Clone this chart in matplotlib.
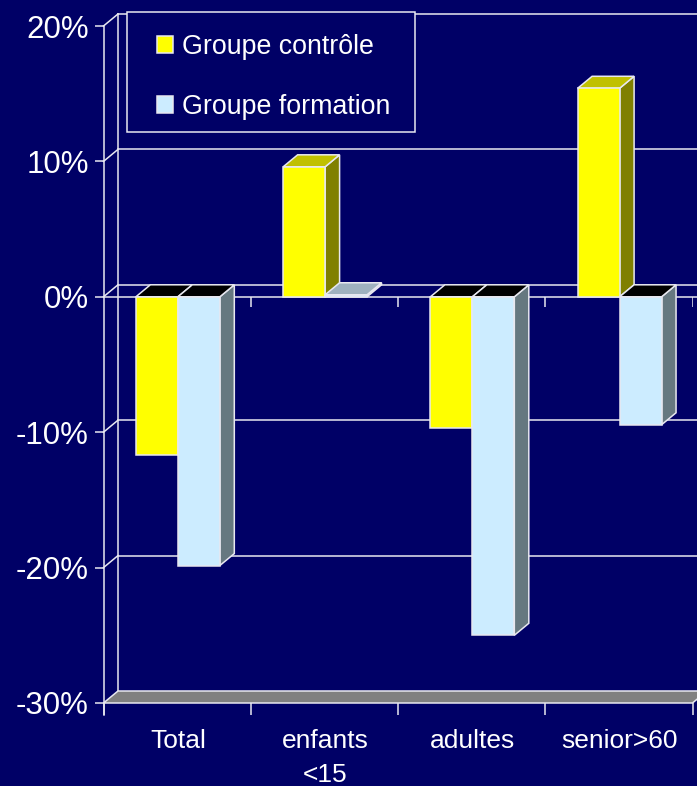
import matplotlib
matplotlib.use('Agg')
import matplotlib.pyplot as plt
from matplotlib.patches import Patch, Polygon, Rectangle

plt.rcParams['font.family'] = ['Liberation Sans', 'DejaVu Sans']

categories = ['Total', 'enfants\n<15', 'adultes', 'senior>60']
controle = [-11.7, 9.6, -9.7, 15.4]
formation = [-19.85, 0.15, -25.0, -9.45]
y_ticks = [-30, -20, -10, 0, 10, 20]

BG = '#000066'
LINE = '#e8e8f0'
LW = 1.1
W, H = 697, 786

fig = plt.figure(figsize=(W / 100, H / 100), dpi=100, facecolor=BG)
ax = fig.add_axes([103.5 / W, (H - 703) / H, 589 / W, 677 / H], facecolor=BG)
ax.set_xlim(0, 4)
ax.set_ylim(-30, 20)

# depth of the fake 3d, in data units
dx = 14.5 / 147.5
dy = 12 / 13.54
bar_w = 0.285


def draw_bar(x, val, front, side, top, z):
    ax.bar(x, val, bar_w, align='edge', color=front, edgecolor=LINE, linewidth=LW, zorder=z + 0.2)
    x1 = x + bar_w
    ax.add_patch(Polygon([(x1, 0), (x1 + dx, dy), (x1 + dx, val + dy), (x1, val)], closed=True,
                         facecolor=side, edgecolor=LINE, linewidth=LW, zorder=z, clip_on=False))
    up = max(val, 0)
    ax.add_patch(Polygon([(x, up), (x1, up), (x1 + dx, up + dy), (x + dx, up + dy)], closed=True,
                         facecolor=top, edgecolor=LINE, linewidth=LW, zorder=z + 0.1, clip_on=False))


# back wall and grid
for v in y_ticks[1:]:
    ax.plot([dx, 4.1], [v + dy, v + dy], color=LINE, lw=LW, zorder=1, clip_on=False)
    ax.plot([0, dx], [v, v + dy], color=LINE, lw=LW, zorder=1, clip_on=False)
ax.plot([dx, dx], [-30 + dy, 20 + dy], color=LINE, lw=LW, zorder=1, clip_on=False)

# floor
ax.add_patch(Polygon([(0, -30), (4, -30), (4 + dx, -30 + dy), (dx, -30 + dy)], closed=True,
                     facecolor='#808080', edgecolor=LINE, linewidth=LW, zorder=2, clip_on=False))

# zero line in front and its ticks
ax.plot([0, 4.1], [0, 0], color=LINE, lw=LW, zorder=3, clip_on=False)
ax.vlines([1, 2, 3, 4], 0, -0.75, color=LINE, lw=LW, zorder=3)

for i in range(len(categories)):
    z = 4 + i * 2
    left = i + 0.505 - bar_w
    c = controle[i]
    f = formation[i]
    draw_bar(left, c, '#ffff00', '#808000', '#c0c000' if c > 0 else '#000000', z)
    draw_bar(left + bar_w, f, '#ccecff', '#667880', '#9fb2bf' if f > 0 else '#000000', z + 1)

# axes
for s in ['top', 'right', 'bottom']:
    ax.spines[s].set_visible(False)
ax.spines['left'].set_color(LINE)
ax.spines['left'].set_linewidth(LW)
ax.spines['left'].set_bounds(-30.9, 20)

ax.set_yticks(y_ticks)
ax.set_yticklabels([str(v) + '%' for v in y_ticks], fontsize=22.5, color='white')
ax.tick_params(axis='y', length=6.5, width=LW, color=LINE, pad=4)
ax.set_xticks([0, 1, 2, 3, 4])
ax.set_xticklabels([])
ax.tick_params(axis='x', which='major', length=8.5, width=LW, color=LINE)
ax.set_xticks([i + 0.505 for i in range(4)], minor=True)
ax.set_xticklabels(categories, minor=True, fontsize=19, color='white', linespacing=1.52)
ax.tick_params(axis='x', which='minor', length=0, pad=19)

# legend
box = Rectangle((127 / W, 1 - 132 / H), 288 / W, 120 / H, transform=fig.transFigure,
                facecolor=BG, edgecolor=LINE, linewidth=LW, zorder=30)
ax.add_patch(box)
box.set_clip_on(False)
handles = [Patch(facecolor='#ffff00', edgecolor=LINE, linewidth=LW),
           Patch(facecolor='#ccecff', edgecolor=LINE, linewidth=LW)]
leg = ax.legend(handles, ['Groupe contrôle', 'Groupe formation'], loc='upper left',
                bbox_to_anchor=(157 / W, 1 - 33.5 / H), bbox_transform=fig.transFigure,
                frameon=False, fontsize=19.3, labelcolor='white', borderpad=0, borderaxespad=0,
                handlelength=0.6, handleheight=0.6, handletextpad=0.34, labelspacing=1.27)
leg.set_zorder(31)

fig.savefig('out.png', dpi=100, facecolor=BG)
